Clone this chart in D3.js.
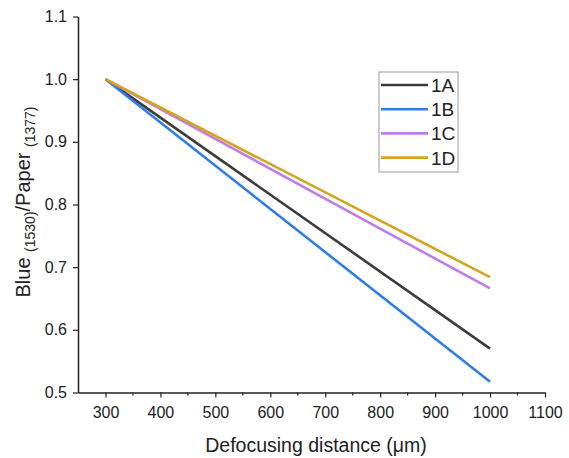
<!DOCTYPE html>
<html>
<head>
<meta charset="utf-8">
<script src="https://cdn.jsdelivr.net/npm/d3@7"></script>
<style>
  body { margin: 0; background: #fff; }
  text { font-family: "Liberation Sans", Arial, sans-serif; fill: #222; }
</style>
</head>
<body>
<div id="chart"></div>
<script>
// data
var distance = [300, 1000]
var seriesNames = ["1A", "1B", "1C", "1D"]
var seriesColors = ["#3c3c3c", "#2f7de6", "#c07de8", "#d4a41c"]
var val1A = [1.0, 0.570]
var val1B = [1.0, 0.517]
var val1C = [1.0, 0.666]
var val1D = [1.0, 0.684]
var xTicks = [300, 400, 500, 600, 700, 800, 900, 1000, 1100]
var yTicks = [0.5, 0.6, 0.7, 0.8, 0.9, 1.0, 1.1]

const width = 569
const height = 458

const svg = d3.select('#chart').append('svg')
  .attr('width', width)
  .attr('height', height)

var x = d3.scaleLinear().domain([250, 1100]).range([78, 545])
var y = d3.scaleLinear().domain([0.5, 1.1]).range([392.5, 16.5])

// minor ticks on x
var minor = d3.range(350, 1100, 100)
svg.append('g')
  .attr('transform', 'translate(0,392.5)')
  .selectAll('line.minor')
  .data(minor)
  .enter()
  .append('line')
  .attr('x1', d => x(d)).attr('x2', d => x(d))
  .attr('y1', 0).attr('y2', 3)
  .attr('stroke', '#222').attr('stroke-width', 1.2)

var xAxis = svg.append('g')
  .attr('transform', 'translate(0,392.5)')
  .call(d3.axisBottom(x).tickValues(xTicks).tickFormat(d3.format('d')).tickSize(5).tickSizeOuter(0).tickPadding(9))
xAxis.select('.domain').attr('stroke', '#222').attr('stroke-width', 1.5)
xAxis.selectAll('.tick line').attr('stroke', '#222').attr('stroke-width', 1.2)
xAxis.selectAll('.tick text').style('font-size', '16px').attr('fill', '#222')

var yAxis = svg.append('g')
  .attr('transform', 'translate(78,0)')
  .call(d3.axisLeft(y).tickValues(yTicks).tickFormat(d3.format('.1f')).tickSize(5).tickSizeOuter(0).tickPadding(6))
yAxis.select('.domain').attr('stroke', '#222').attr('stroke-width', 1.5)
yAxis.selectAll('.tick line').attr('stroke', '#222').attr('stroke-width', 1.2)
yAxis.selectAll('.tick text').style('font-size', '16px').attr('fill', '#222')

// axis titles
svg.append('text')
  .attr('x', 316).attr('y', 452)
  .style('text-anchor', 'middle')
  .style('font-size', '19.5px')
  .text('Defocusing distance (\u03bcm)')

var yl = svg.append('text')
  .attr('transform', 'translate(29.5,202) rotate(-90)')
  .style('text-anchor', 'middle')
  .style('font-size', '20px')
yl.append('tspan').text('Blue ')
yl.append('tspan').attr('dy', 5).style('font-size', '14px').text('(1530)')
yl.append('tspan').attr('dy', -5).text('/Paper ')
yl.append('tspan').attr('dy', 5).style('font-size', '14px').text('(1377)')

// lines
var allVals = [val1A, val1B, val1C, val1D]
var line = d3.line().x(d => x(d[0])).y(d => y(d[1]))
for (let i = 0; i < allVals.length; i++) {
  svg.append('path')
    .datum(d3.zip(distance, allVals[i]))
    .attr('d', line)
    .attr('fill', 'none')
    .attr('stroke', seriesColors[i])
    .attr('stroke-width', 2.6)
}

// legend
var lg = svg.append('g').attr('transform', 'translate(379,72)')
lg.append('rect')
  .attr('width', 79).attr('height', 100)
  .attr('fill', '#fff').attr('stroke', '#999').attr('stroke-width', 1)
seriesNames.forEach(function (n, i) {
  var yy = 13 + i * 24.2
  lg.append('line')
    .attr('x1', 2).attr('x2', 49).attr('y1', yy).attr('y2', yy)
    .attr('stroke', seriesColors[i]).attr('stroke-width', 2.6)
  lg.append('text')
    .attr('x', 52).attr('y', yy + 7)
    .style('font-size', '19px')
    .text(n)
})
</script>
</body>
</html>
